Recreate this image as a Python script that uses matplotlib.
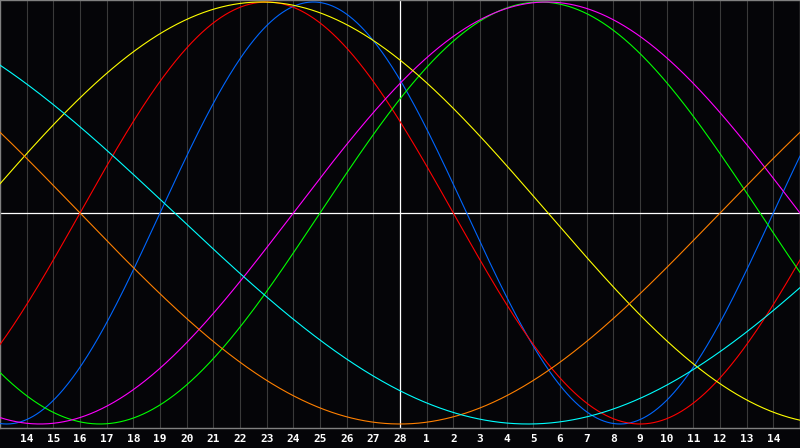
import numpy as np
import matplotlib.pyplot as plt

# Dni na osi X (dzień 28 w środku wykresu)
tick_days = np.arange(-14, 15)
tick_labels = [str(v) for v in list(range(14, 29)) + list(range(1, 15))]

# Cykle biorytmów: okres (dni), położenie maksimum względem środka, kolor
periods = [23, 28, 33, 38, 43, 48, 53]
peak_days = [-3.25, -5.0, 5.25, 5.5, -5.2, 24.0, -21.7]
colors = ['#0066ff', '#ff0000', '#00ff00', '#ff00ff', '#ffff00', '#ff8000', '#00ffff']

bg = '#050508'

fig = plt.figure(figsize=(8, 4.48), dpi=100, facecolor=bg)
ax = fig.add_axes([0, 20 / 448, 1, 428 / 448])
ax.set_facecolor(bg)

# Siatka dni
for d in tick_days:
    if d != 0:
        ax.axvline(d, color='#3a3a3a', lw=0.8, zorder=1)
ax.axvline(0, color='white', lw=0.9, zorder=2)
ax.axhline(0, color='white', lw=0.9, zorder=2)

# Krzywe
x = np.linspace(-15, 15, 1200)
for P, p0, c in zip(periods, peak_days, colors):
    ax.plot(x, np.cos(2 * np.pi * (x - p0) / P), color=c, lw=0.8, zorder=3)

ax.set_xlim(-15, 15)
ax.set_ylim(-1.019, 1.0095)
ax.set_yticks([])
ax.set_xticks(tick_days)
ax.set_xticklabels(tick_labels, color='white', fontsize=8,
                   fontweight='bold', family='DejaVu Sans Mono')
ax.tick_params(axis='x', length=0, pad=4)
for s in ax.spines.values():
    s.set_color('#808080')
    s.set_linewidth(1)

fig.savefig('out.png', dpi=100, facecolor=bg)
